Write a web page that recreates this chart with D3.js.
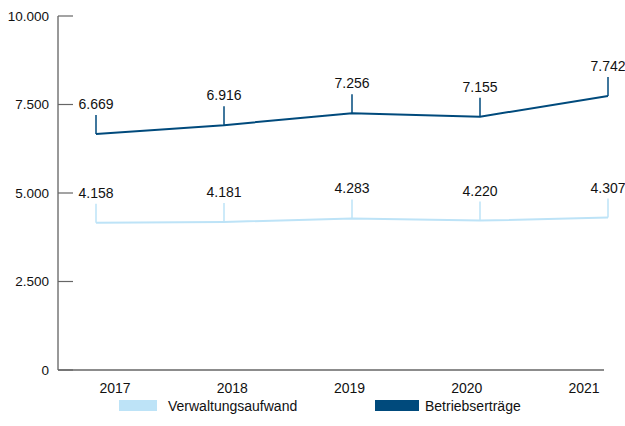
<!DOCTYPE html>
<html><head><meta charset="utf-8">
<script src="https://cdn.jsdelivr.net/npm/d3@7"></script>
<style>body{margin:0;background:#fff}svg{display:block;font-family:"Liberation Sans",Arial,sans-serif}</style>
</head><body><svg id="c" width="625" height="426"></svg>
<script>
const years = ["2017","2018","2019","2020","2021"];
const verwaltungsaufwand = [4158, 4181, 4283, 4220, 4307];
const betriebsertraege = [6669, 6916, 7256, 7155, 7742];
const yTicks = [0, 2500, 5000, 7500, 10000];
const seriesNames = ["Verwaltungsaufwand", "Betriebserträge"];
const colors = ["#bde3f7", "#004a7c"];

const svg = d3.select("#c");
const fmt = d => d3.format(",")(d).replace(/,/g, ".");
const y = d3.scaleLinear().domain([0, 10000]).range([370, 16]);
const x = d3.scalePoint().domain(years).range([96, 608]);
const xl = d3.scalePoint().domain(years).range([115, 584]);

// y axis
svg.append("line").attr("x1",58).attr("x2",58).attr("y1",16).attr("y2",370).attr("stroke","#333").attr("stroke-width",1);
const yt = svg.append("g").selectAll("g").data(yTicks).join("g");
yt.append("line").attr("x1",58).attr("x2",73).attr("y1",d=>y(d)).attr("y2",d=>y(d)).attr("stroke","#666").attr("stroke-width",1.2);
yt.append("text").attr("x",49).attr("y",d=>y(d)).attr("dy","0.35em").attr("text-anchor","end").attr("font-size",13.5).attr("fill","#111").text(d=>fmt(d));
// x axis
svg.append("line").attr("x1",58).attr("x2",604).attr("y1",370).attr("y2",370).attr("stroke","#666").attr("stroke-width",1.5);
svg.append("g").selectAll("text").data(years).join("text").attr("x",d=>xl(d)).attr("y",393).attr("text-anchor","middle").attr("font-size",14).attr("fill","#111").text(d=>d);

const series = [verwaltungsaufwand, betriebsertraege];
const line = d3.line().x((d,i)=>x(years[i])).y(d=>y(d));
series.forEach((vals, s) => {
  const g = svg.append("g");
  g.append("path").attr("d", line(vals)).attr("fill","none").attr("stroke",colors[s]).attr("stroke-width",2);
  g.selectAll("line.l").data(vals).join("line").attr("class","l")
    .attr("x1",(d,i)=>x(years[i])).attr("x2",(d,i)=>x(years[i]))
    .attr("y1",d=>y(d)).attr("y2",d=>y(d)-19).attr("stroke",colors[s]).attr("stroke-width",1.5);
  g.selectAll("text").data(vals).join("text")
    .attr("x",(d,i)=>x(years[i])).attr("y",d=>y(d)-25)
    .attr("text-anchor","middle").attr("font-size",14).attr("fill","#111").text(d=>fmt(d));
});

// legend
const lg = svg.append("g").selectAll("g").data(seriesNames).join("g")
  .attr("transform",(d,i)=>`translate(${i===0?119:375},400)`);
lg.append("rect").attr("width",(d,i)=>i===0?38:44).attr("height",11).attr("fill",(d,i)=>colors[i]);
lg.append("text").attr("x",(d,i)=>i===0?49:50).attr("y",6).attr("dy","0.35em").attr("font-size",14).attr("fill","#111").text(d=>d);
</script></body></html>
